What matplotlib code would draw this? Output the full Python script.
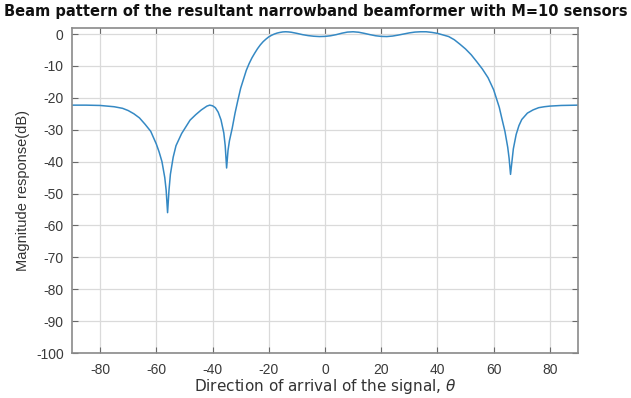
import matplotlib
matplotlib.use("Agg")
import matplotlib.pyplot as plt

plt.rcParams['font.family'] = ['Liberation Sans', 'DejaVu Sans']
plt.rcParams['axes.unicode_minus'] = False

# Beam pattern samples: direction of arrival (deg) and magnitude response (dB)
theta_deg = [
    -90, -85, -80, -75, -72, -70, -68, -66, -64, -62, -60, -59, -58, -57,
    -56.5, -56, -55.5, -55, -54, -53, -51, -48, -46, -44, -42, -41, -40,
    -39, -38, -37, -36, -35.5, -35, -34.5, -34, -33, -32, -31, -30, -29,
    -28, -27, -26, -25, -24, -23, -22, -21, -20, -19, -18, -17, -16, -15,
    -14, -13, -12, -10, -8, -6, -4, -2, 0, 2, 4, 6, 8, 10, 12, 14, 16, 18,
    20, 22, 24, 26, 28, 30, 32, 34, 36, 38, 40, 42, 44, 46, 48, 50, 52, 54,
    56, 58, 60, 62, 63, 64, 65, 65.5, 66, 66.5, 67, 68, 69, 70, 72, 74, 76,
    78, 80, 84, 90,
]
magnitude_db = [
    -22.3, -22.3, -22.4, -22.8, -23.3, -24.0, -25.0, -26.3, -28.3, -30.5,
    -34.5, -37.0, -40.0, -45.0, -49.0, -56.0, -49.0, -44.0, -38.6, -35.0,
    -31.2, -27.0, -25.3, -23.8, -22.6, -22.3, -22.5, -23.1, -24.5, -26.9,
    -31.0, -35.0, -42.0, -36.5, -33.5, -29.5, -24.8, -20.8, -17.0, -14.2,
    -11.4, -9.3, -7.5, -6.0, -4.6, -3.4, -2.4, -1.6, -0.9, -0.4, 0.0, 0.3,
    0.5, 0.65, 0.7, 0.65, 0.55, 0.2, -0.2, -0.5, -0.7, -0.8, -0.75, -0.55,
    -0.2, 0.25, 0.6, 0.7, 0.55, 0.2, -0.2, -0.55, -0.75, -0.8, -0.65,
    -0.35, 0.0, 0.35, 0.6, 0.7, 0.7, 0.5, 0.2, -0.3, -0.8, -1.8, -3.2,
    -4.7, -6.5, -8.7, -11.0, -13.7, -17.5, -23.0, -26.8, -30.5, -35.5,
    -39.0, -44.0, -40.0, -36.0, -31.5, -28.7, -26.8, -24.8, -23.8, -23.1,
    -22.8, -22.6, -22.4, -22.3,
]

x_ticks = [-80, -60, -40, -20, 0, 20, 40, 60, 80]
y_ticks = [-100, -90, -80, -70, -60, -50, -40, -30, -20, -10, 0]

fig = plt.figure(figsize=(6.31, 3.98), dpi=100)
ax = fig.add_axes([0.1141, 0.113, 0.8019, 0.816])

ax.plot(theta_deg, magnitude_db, color='#3589c4', linewidth=1.1)

ax.set_xlim(-90, 90)
ax.set_ylim(-100, 1.8)
ax.set_xticks(x_ticks)
ax.set_yticks(y_ticks)

ax.grid(True, color='#dadada', linewidth=0.9)
ax.set_axisbelow(True)

for side in ax.spines.values():
    side.set_color('#8a8a8a')
    side.set_linewidth(1.2)

ax.tick_params(direction='in', length=4, width=0.8, color='#6a6a6a',
               top=True, right=True, labelsize=10, labelcolor='#3a3a3a')
ax.tick_params(axis='x', pad=7)
ax.tick_params(axis='y', pad=6)

ax.set_xlabel(r'Direction of arrival of the signal, $\theta$',
              fontsize=11, family='DejaVu Sans', color='#333333', labelpad=0)
ax.set_ylabel('Magnitude response(dB)', fontsize=10.5, color='#333333',
              labelpad=4)
fig.text(0.5, 0.97, 'Beam pattern of the resultant narrowband beamformer with M=10 sensors',
         ha='center', va='center', fontsize=10.5, fontweight='bold',
         family='DejaVu Sans', color='#111111')

fig.savefig('out.png', dpi=100)
